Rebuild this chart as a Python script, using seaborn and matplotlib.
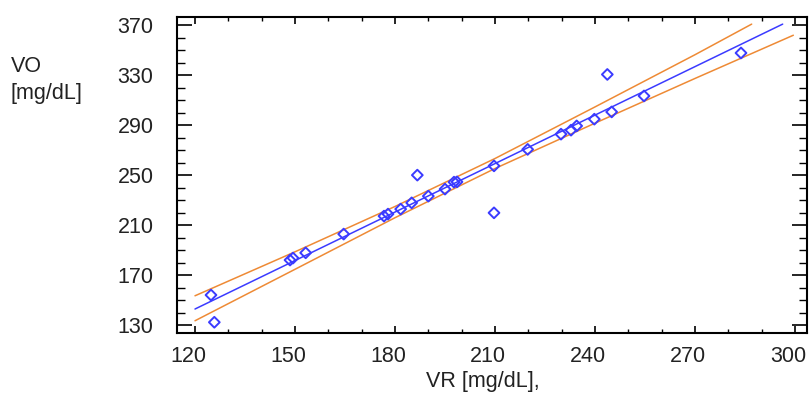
import numpy as np
import pandas as pd
import matplotlib
matplotlib.use("Agg")
import matplotlib.pyplot as plt
from matplotlib.ticker import MultipleLocator
from matplotlib.transforms import ScaledTranslation
import seaborn as sns

vr = [124.8, 125.8, 148.5, 149.4, 153.2, 164.6, 176.7, 177.9, 181.7, 185.0,
      186.7, 190.0, 195.0, 197.7, 198.6, 209.7, 209.7, 219.8, 229.8, 232.8,
      234.5, 239.8, 243.7, 245.0, 254.7, 283.8]
vo = [154.0, 132.2, 182.0, 183.6, 187.8, 202.8, 217.2, 218.8, 222.8, 227.8,
      250.0, 233.2, 238.8, 244.4, 244.6, 257.4, 219.8, 270.6, 282.8, 286.0,
      289.4, 294.8, 330.6, 300.6, 313.4, 347.8]

# regression line and confidence band
fit_x = [120, 296.3]
fit_y = [142.8, 370.9]
upper_x = [120, 150, 180, 210, 240, 270, 287]
upper_y = [153.4, 188.6, 224.9, 263.3, 304.6, 346.4, 370.9]
lower_x = [120, 150, 180, 210, 240, 270, 299.5]
lower_y = [133.4, 174.6, 215.9, 255.3, 291.6, 327.4, 362.0]

sns.set_theme(style="ticks")
plt.rcParams['font.family'] = ['Liberation Sans', 'DejaVu Sans']

blue = '#3b3bff'
orange = '#ee8a35'
fs = 15.5

fig = plt.figure(figsize=(8.11, 3.94), dpi=100)
ax = fig.add_axes([177 / 811, 61 / 394, 630 / 811, 316 / 394])

sns.lineplot(x=upper_x, y=upper_y, color=orange, lw=1.1, ax=ax)
sns.lineplot(x=lower_x, y=lower_y, color=orange, lw=1.1, ax=ax)
sns.lineplot(x=fit_x, y=fit_y, color=blue, lw=1.1, ax=ax)

df = pd.DataFrame({'VR': vr, 'VO': vo})
sns.scatterplot(data=df, x='VR', y='VO', marker='D', s=30,
                facecolor='none', edgecolor=blue, linewidth=1.4, ax=ax, zorder=5)

ax.set_xlim(114.6, 303.6)
ax.set_ylim(123.6, 376.6)
ax.set_xticks(np.arange(120, 301, 30))
ax.xaxis.set_minor_locator(MultipleLocator(10))
ax.set_yticks(np.arange(130, 371, 40))
ax.yaxis.set_minor_locator(MultipleLocator(10))

for s in ax.spines.values():
    s.set_color('black')
    s.set_linewidth(1.5)

ax.tick_params(axis='both', which='both', direction='in', colors='black',
               labelcolor='#222222', top=True, right=True, labelsize=fs)
ax.tick_params(axis='x', which='major', length=5, width=1.2, pad=9)
ax.tick_params(axis='x', which='minor', length=3, width=1.0)
ax.tick_params(axis='y', which='major', length=11, width=1.2, pad=17)
ax.tick_params(axis='y', which='minor', length=6, width=1.0)

# x tick labels sit a little left of their ticks in the original
shift = ScaledTranslation(-7 / 100, 0, fig.dpi_scale_trans)
for lab in ax.get_xticklabels():
    lab.set_transform(lab.get_transform() + shift)

ax.set_xlabel('VR [mg/dL],', fontsize=fs, color='#222222')
ax.xaxis.set_label_coords((483 - 177) / 630, -0.12)
ax.set_ylabel('')
fig.text(11 / 811, 1 - 56 / 394, 'VO\n[mg/dL]', fontsize=fs, ha='left', va='top',
         linespacing=1.35, color='#222222')

fig.savefig('out.png', dpi=100)
